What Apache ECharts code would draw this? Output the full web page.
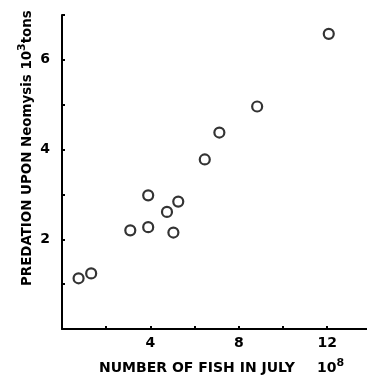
<!DOCTYPE html>
<html><head><meta charset="utf-8">
<script src="https://cdn.jsdelivr.net/npm/echarts@6/dist/echarts.min.js"></script>
<style>html,body{margin:0;padding:0;background:#fff}#c{width:367px;height:375px}</style>
</head><body><div id="c"></div>
<script>
const fishX = [0.75, 1.32, 3.09, 3.9, 3.9, 4.75, 5.04, 5.26, 6.46, 7.12, 8.83, 12.07];
const predationY = [1.13, 1.24, 2.2, 2.27, 2.98, 2.61, 2.15, 2.84, 3.78, 4.38, 4.96, 6.58];
const xTickLabels = ['4', '8', '12'];
const yTickLabels = ['2', '4', '6'];
const xTitle = 'NUMBER OF FISH IN JULY';
const xUnit = '10';
const xUnitExp = '8';
const yTitle = 'PREDATION UPON Neomysis 10';
const yUnitExp = '3';
const yUnit = 'tons';

const FONT = '"DejaVu Sans", sans-serif';
const chart = echarts.init(document.getElementById('c'));
chart.setOption({
  animation: false,
  backgroundColor: '#fff',
  grid: {left: 62, top: 15, right: 0, bottom: 46},
  xAxis: {
    type: 'value', min: 0, max: 13.8, interval: 2,
    splitLine: {show: false},
    axisLine: {lineStyle: {color: '#000', width: 2}},
    axisTick: {inside: true, length: 3, lineStyle: {color: '#000', width: 2}},
    axisLabel: {
      color: '#000', fontFamily: FONT, fontWeight: 'bold', fontSize: 14, margin: 7,
      showMaxLabel: false,
      formatter: v => xTickLabels.includes(String(v)) ? String(v) : ''
    }
  },
  yAxis: {
    type: 'value', min: 0, max: 7, interval: 1,
    splitLine: {show: false},
    axisLine: {lineStyle: {color: '#000', width: 2}},
    axisTick: {inside: true, length: 3, lineStyle: {color: '#000', width: 2}},
    axisLabel: {
      color: '#000', fontFamily: FONT, fontWeight: 'bold', fontSize: 14, margin: 12,
      formatter: v => yTickLabels.includes(String(v)) ? String(v) : ''
    }
  },
  graphic: [
    {
      type: 'text', left: 99, top: 358,
      style: {
        text: '{t|' + xTitle + '}{u|' + xUnit + '}{s|' + xUnitExp + '}',
        rich: {
          t: {fontFamily: FONT, fontWeight: 'bold', fontSize: 14, fill: '#000', verticalAlign: 'bottom'},
          u: {fontFamily: FONT, fontWeight: 'bold', fontSize: 14, fill: '#000', verticalAlign: 'bottom', padding: [0, 0, 0, 22]},
          s: {fontFamily: FONT, fontWeight: 'bold', fontSize: 11, fill: '#000', verticalAlign: 'top', padding: [0, 0, 6, 0]}
        }
      }
    },
    {
      type: 'text', x: 17, y: 286, rotation: Math.PI / 2,
      style: {
        text: '{t|' + yTitle + '}{s|' + yUnitExp + '}{t|' + yUnit + '}',
        rich: {
          t: {fontFamily: FONT, fontWeight: 'bold', fontSize: 13.4, fill: '#000', verticalAlign: 'bottom'},
          s: {fontFamily: FONT, fontWeight: 'bold', fontSize: 11, fill: '#000', verticalAlign: 'top', padding: [0, 0, 6, 0]}
        }
      }
    }
  ],
  series: [{
    type: 'scatter',
    data: fishX.map((x, i) => [x, predationY[i]]),
    symbol: 'circle', symbolSize: 10,
    itemStyle: {color: '#fff', borderColor: '#000', borderWidth: 2.2}
  }]
});
</script></body></html>
